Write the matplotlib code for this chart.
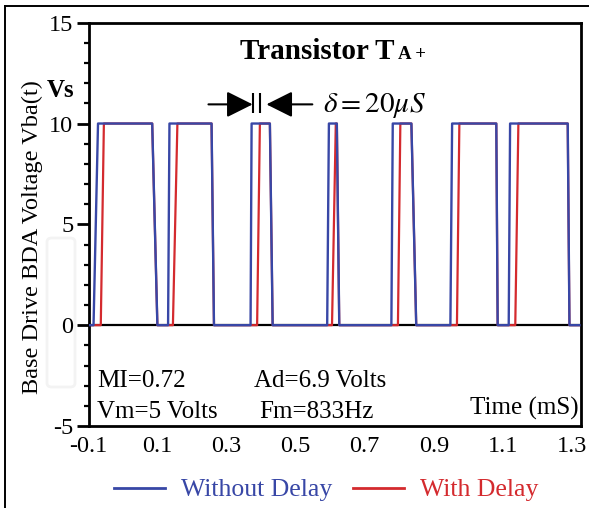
import matplotlib
matplotlib.use("Agg")
import matplotlib.pyplot as plt
from matplotlib.lines import Line2D
from matplotlib.patches import FancyBboxPatch
from matplotlib.ticker import MultipleLocator

plt.rcParams['font.family'] = ['Liberation Serif', 'DejaVu Serif']
plt.rcParams['mathtext.fontset'] = 'stix'
plt.rcParams['axes.unicode_minus'] = False

# ---- data ----
time_without = [-0.1, -0.086, -0.073, 0.084, 0.099, 0.130, 0.134, 0.256, 0.263,
                0.369, 0.372, 0.425, 0.433, 0.591, 0.596, 0.619, 0.626,
                0.777, 0.781, 0.835, 0.849, 0.948, 0.953, 1.081, 1.085,
                1.117, 1.121, 1.288, 1.293, 1.322]
volt_without = [0, 0, 10, 10, 0, 0, 10, 10, 0,
                0, 10, 10, 0, 0, 10, 10, 0,
                0, 10, 10, 0, 0, 10, 10, 0,
                0, 10, 10, 0, 0]
time_with = [-0.1, -0.065, -0.056, 0.084, 0.099, 0.144, 0.157, 0.256, 0.263,
             0.388, 0.396, 0.425, 0.433, 0.605, 0.616, 0.619, 0.626,
             0.796, 0.803, 0.835, 0.849, 0.967, 0.974, 1.081, 1.085,
             1.136, 1.145, 1.288, 1.293, 1.322]
volt_with = [0, 0, 10, 10, 0, 0, 10, 10, 0,
             0, 10, 10, 0, 0, 10, 10, 0,
             0, 10, 10, 0, 0, 10, 10, 0,
             0, 10, 10, 0, 0]
xtick_vals = [-0.1, 0.1, 0.3, 0.5, 0.7, 0.9, 1.1, 1.3]
xtick_labels = ['-0.1', '0.1', '0.3', '0.5', '0.7', '0.9', '1.1', '1.3']
ytick_vals = [-5, 0, 5, 10, 15]
ytick_labels = ['-5', '0', '5', '10', '15']

BLUE = '#3847A6'
RED = '#D42A2E'

W, H = 589, 508
def fx(px):
    return px / W
def fy(py):
    return 1 - py / H

fig = plt.figure(figsize=(W / 100, H / 100), dpi=100)
ax = fig.add_axes([fx(88.7), fy(426), fx(580.5) - fx(88.7), fy(22.7) - fy(426)])

ax.axhline(0, color='k', lw=1.6, zorder=1)
ax.plot(time_with, volt_with, color=RED, lw=1.6, zorder=2)
ax.plot(time_without, volt_without, color=BLUE, lw=1.7, zorder=3)

ax.set_xlim(-0.1, 1.325)
ax.set_ylim(-5, 15)
ax.set_xticks(xtick_vals)
ax.set_xticklabels(xtick_labels)
ax.set_yticks(ytick_vals)
ax.set_yticklabels(ytick_labels)
ax.yaxis.set_minor_locator(MultipleLocator(1))
ax.tick_params(axis='y', which='major', direction='out', length=9, width=2,
               labelsize=17.5, pad=2)
ax.tick_params(axis='y', which='minor', direction='out', length=3.5, width=1.6)
ax.tick_params(axis='x', which='both', length=0, labelsize=17.5, pad=7)
for s in ax.spines.values():
    s.set_linewidth(2)

# delay marker above the third pulse
p3_rise_without = time_without[10]
p3_rise_with = time_with[10]
ay = 10.95
ax.annotate('', xy=(p3_rise_without + 0.003, ay), xytext=(p3_rise_without - 0.125, ay),
            arrowprops=dict(arrowstyle='-|>,head_length=1.6,head_width=0.8',
                            mutation_scale=10, lw=1.5, color='k',
                            shrinkA=0, shrinkB=0), zorder=5)
ax.annotate('', xy=(p3_rise_with + 0.019, ay), xytext=(p3_rise_with + 0.152, ay),
            arrowprops=dict(arrowstyle='-|>,head_length=1.6,head_width=0.8',
                            mutation_scale=10, lw=1.5, color='k',
                            shrinkA=0, shrinkB=0), zorder=5)
ax.vlines([p3_rise_without + 0.005, p3_rise_with], 10.5, 11.5, color='k', lw=1.5, zorder=5)

# texts
fig.text(fx(240), fy(59), 'Transistor T', fontsize=21, fontweight='bold', va='baseline')
fig.text(fx(398), fy(59), 'A +', fontsize=13.5, fontweight='bold', va='baseline')
fig.text(fx(323), fy(112), r'$\delta{=}20\mu S$', fontsize=21, va='baseline')
fig.text(fx(47), fy(97), 'Vs', fontsize=18, fontweight='bold', va='baseline')
fig.text(fx(32), fy(237.5), 'Base Drive BDA Voltage Vba(t)', fontsize=17.5,
         rotation=90, ha='center', va='center')
fig.text(fx(97), fy(387), 'MI=0.72', fontsize=18, va='baseline')
fig.text(fx(97), fy(418), 'Vm=5 Volts', fontsize=18, va='baseline')
fig.text(fx(254), fy(387), 'Ad=6.9 Volts', fontsize=18, va='baseline')
fig.text(fx(259), fy(418), 'Fm=833Hz', fontsize=18, va='baseline')
fig.text(fx(470), fy(415), 'Time (mS)', fontsize=18, va='baseline')

# legend
handles = [Line2D([], [], color=BLUE, lw=2), Line2D([], [], color=RED, lw=2)]
leg = fig.legend(handles, ['Without Delay', 'With Delay'], loc='center',
                 bbox_to_anchor=(fx(326), fy(490)), ncol=2, frameon=False,
                 fontsize=18.5, handlelength=2.0, handletextpad=0.6,
                 columnspacing=0.8, borderpad=0, borderaxespad=0)
for t, c in zip(leg.get_texts(), [BLUE, RED]):
    t.set_color(c)

# outer frame lines and faint box
fig.add_artist(Line2D([fx(5), 1], [fy(6), fy(6)], transform=fig.transFigure, color='k', lw=1.4))
fig.add_artist(Line2D([fx(5), fx(5)], [fy(6), 0], transform=fig.transFigure, color='k', lw=1.4))
fig.add_artist(FancyBboxPatch((fx(47), fy(387)), fx(75) - fx(47), fy(238) - fy(387),
                              boxstyle='round,pad=0,rounding_size=0.008',
                              transform=fig.transFigure, fc='none', ec='#f3f3f3', lw=2,
                              zorder=0))

fig.savefig('out.png', dpi=100)
